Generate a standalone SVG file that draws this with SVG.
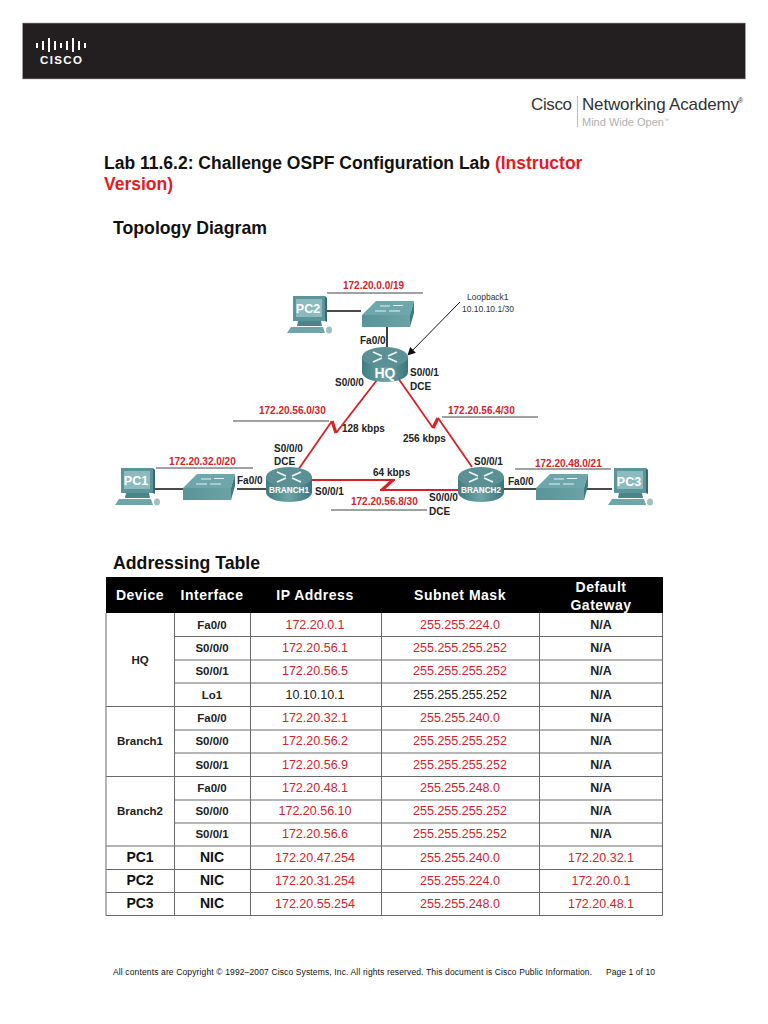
<svg xmlns="http://www.w3.org/2000/svg" width="768" height="1024" viewBox="0 0 768 1024">
<style>
text{font-family:"Liberation Sans",Arial,sans-serif}
.b{font-weight:bold}
.l{font-size:10px;font-weight:bold;fill:#222}
.n{font-size:10px;font-weight:bold;fill:#d2232a}
.ul{stroke:#444;stroke-width:1;fill:none}
.red{stroke:#d92027;stroke-width:1.8;fill:none;stroke-linejoin:miter}
.zig{stroke:#d92027;stroke-width:3.2;fill:none}
.eth{stroke:#111;stroke-width:1.6;fill:none}
.grid{stroke:#6a6a6a;stroke-width:1;fill:none}
.th{font-size:14px;font-weight:bold;fill:#fff;text-anchor:middle;letter-spacing:.5px}
.td{font-size:12.500px;fill:#d2232a;text-anchor:middle}
.tk{font-size:12.500px;fill:#222;text-anchor:middle}
.tb{font-size:11.500px;font-weight:bold;fill:#222;text-anchor:middle}
.tn{font-size:12.500px;font-weight:bold;fill:#222;text-anchor:middle}
.tB{font-size:14px;font-weight:bold;fill:#111;text-anchor:middle}
.ic{fill:#fff;font-weight:bold;text-anchor:middle}
</style>
<defs>
<linearGradient id="rg" x1="0" y1="0" x2="1" y2="0"><stop offset="0" stop-color="#3f7c82"/><stop offset=".5" stop-color="#6fa3a7"/><stop offset="1" stop-color="#3a747a"/></linearGradient>
<linearGradient id="sg" x1="0" y1="0" x2="1" y2="0"><stop offset="0" stop-color="#5a9498"/><stop offset="1" stop-color="#6ba2a6"/></linearGradient>
<marker id="ah" viewBox="0 0 10 10" refX="9" refY="5" markerWidth="9" markerHeight="8" orient="auto"><path d="M0 0L10 5L0 10z" fill="#111"/></marker>
<symbol id="router" viewBox="0 0 46 35" overflow="visible">
<path d="M0 10V25C0 31 10 35 23 35S46 31 46 25V10z" fill="url(#rg)"/>
<ellipse cx="23" cy="10" rx="23" ry="10" fill="#5b9095"/>
<path d="M11 5L20 9M35 5L26 9M11 15L20 11M35 15L26 11" stroke="#eef5f5" stroke-width="1.8" fill="none"/>
</symbol>
<symbol id="switch" viewBox="0 0 54 27" overflow="visible">
<path d="M0 14L14 0H52L48 14z" fill="#6ea7ab"/>
<path d="M0 14H48V26H0z" fill="url(#sg)"/>
<path d="M48 14L52 0V12L48 26z" fill="#3f7a80"/>
<path d="M18 5H28M31 4.500H41M13 10H24M27 10H38" stroke="#e4f0f0" stroke-width="1" fill="none"/>
</symbol>
<symbol id="pc" viewBox="0 0 45 42" overflow="visible">
<path d="M6 1H38V26H6z" fill="#5b959a"/>
<path d="M38 1L40 3V27L38 26z" fill="#37696e"/>
<path d="M9 4H35V22H9z" fill="#8dbabe"/>
<path d="M11 26H34L35 31H10z" fill="#4b858a"/>
<path d="M4 32H36L38 38H0z" fill="#6fa4a8"/>
<ellipse cx="42" cy="35" rx="3" ry="3.500" fill="#9fc0c2"/>
</symbol>
</defs>
<rect width="768" height="1024" fill="#fff"/>

<g id="banner">
<rect x="22.500" y="23" width="723" height="56" fill="#231f20" stroke="#aaa" stroke-width=".6"/>
<g fill="#fff">
<rect x="36" y="43" width="2" height="5"/><rect x="42" y="41" width="2" height="9"/><rect x="48" y="38" width="2" height="14"/><rect x="54" y="41" width="2" height="9"/><rect x="60" y="43" width="2" height="5"/><rect x="66" y="41" width="2" height="9"/><rect x="72" y="38" width="2" height="14"/><rect x="78" y="41" width="2" height="9"/><rect x="84" y="43" width="2" height="5"/>
</g>
<text x="40" y="64" font-size="11.500" class="b" fill="#fff" textLength="42" lengthAdjust="spacing">CISCO</text>
</g>

<g id="academy">
<text x="531" y="109.500" font-size="17" fill="#333" textLength="41">Cisco</text>
<rect x="577" y="96" width="1" height="31" fill="#bbb"/>
<text x="582" y="109.500" font-size="17" fill="#333" textLength="157">Networking Academy</text>
<text x="738" y="103" font-size="7" fill="#333">®</text>
<text x="582" y="126" font-size="11" fill="#b0b0b0">Mind Wide Open<tspan font-size="5" dy="-4">™</tspan></text>
</g>

<g id="headings">
<text x="104" y="169" font-size="17.500" class="b" fill="#111">Lab 11.6.2: Challenge OSPF Configuration Lab <tspan fill="#e31b23">(Instructor</tspan></text>
<text x="104" y="190" font-size="17.500" class="b" fill="#e31b23">Version)</text>
<text x="113" y="234" font-size="17.700" class="b" fill="#111">Topology Diagram</text>
<text x="113" y="569" font-size="17.700" class="b" fill="#111">Addressing Table</text>
</g>

<g id="connectors">
<path class="eth" d="M153 489H183M237 489H266M503 489H537M586 489H612M326 311H361M387 327V347"/>
<path class="red" d="M298 470L332 421M336 433L377 380"/>
<path class="zig" d="M332 421L336 433"/>
<path class="red" d="M398 378L433 428M438 418L472 467"/>
<path class="zig" d="M433 428L438 418"/>
<path class="red" d="M312 480H395M380 490H458"/>
<path class="zig" d="M393 480L382 490"/>
<path class="ul" d="M327 293H423M233 421H329M156 468H253M331 510H427M442 417H538M515 469H611"/>
<path d="M460 302L408 355" stroke="#111" stroke-width="1" fill="none" marker-end="url(#ah)"/>
</g>

<g id="PC2"><use href="#pc" x="287" y="295" width="45" height="42"/><text class="ic" x="308" y="313" font-size="12.500">PC2</text></g>
<g id="PC1"><use href="#pc" x="115" y="467" width="45" height="42"/><text class="ic" x="136" y="485" font-size="12.500">PC1</text></g>
<g id="PC3"><use href="#pc" x="608" y="467" width="45" height="42"/><text class="ic" x="629" y="486" font-size="12.500">PC3</text></g>
<g id="SW-HQ"><use href="#switch" x="362" y="301" width="54" height="27"/></g>
<g id="SW-B1"><use href="#switch" x="183" y="474" width="54" height="27"/></g>
<g id="SW-B2"><use href="#switch" x="536" y="474" width="54" height="27"/></g>
<g id="HQ"><use href="#router" x="362" y="347" width="46" height="35"/><text class="ic" x="385" y="378" font-size="14">HQ</text></g>
<g id="BRANCH1"><use href="#router" x="266" y="467" width="46" height="35"/><text class="ic" x="289" y="493" font-size="8.200">BRANCH1</text></g>
<g id="BRANCH2"><use href="#router" x="458" y="467" width="46" height="35"/><text class="ic" x="481" y="493" font-size="8.200">BRANCH2</text></g>

<g id="labels">
<text class="n" x="343" y="289">172.20.0.0/19</text>
<text class="n" x="259" y="414">172.20.56.0/30</text>
<text class="n" x="169" y="465">172.20.32.0/20</text>
<text class="n" x="351" y="505">172.20.56.8/30</text>
<text class="n" x="448" y="414">172.20.56.4/30</text>
<text class="n" x="535" y="467">172.20.48.0/21</text>
<text class="l" x="360" y="344">Fa0/0</text>
<text class="l" x="335" y="386">S0/0/0</text>
<text class="l" x="410" y="376">S0/0/1</text>
<text class="l" x="410" y="390">DCE</text>
<text class="l" x="342" y="432">128 kbps</text>
<text class="l" x="403" y="442">256 kbps</text>
<text class="l" x="274" y="452">S0/0/0</text>
<text class="l" x="274" y="465">DCE</text>
<text class="l" x="237" y="484">Fa0/0</text>
<text class="l" x="315" y="495">S0/0/1</text>
<text class="l" x="373" y="476">64 kbps</text>
<text class="l" x="474" y="465">S0/0/1</text>
<text class="l" x="508" y="485">Fa0/0</text>
<text class="l" x="429" y="501">S0/0/0</text>
<text class="l" x="429" y="515">DCE</text>
<text x="467" y="300" font-size="8.500" fill="#333">Loopback1</text>
<text x="462" y="312" font-size="8.500" fill="#333">10.10.10.1/30</text>
</g>

<g id="table">
<rect x="106" y="577" width="557" height="36" fill="#000"/>
<path class="grid" d="M106 613V915.500M662.500 613V915.500M174.500 613V915.500M250.500 613V915.500M381.500 613V915.500M539.500 613V915.500M106 915.500H662.500"/>
<path class="grid" d="M174.500 636.500H662.500M174.500 660H662.500M174.500 683H662.500M106 706.500H662.500M174.500 730H662.500M174.500 753H662.500M106 776.500H662.500M174.500 800H662.500M174.500 823H662.500M106 846H662.500M106 869.500H662.500M106 892.500H662.500"/>
<text class="th" x="140" y="600">Device</text>
<text class="th" x="212" y="600">Interface</text>
<text class="th" x="315" y="600">IP Address</text>
<text class="th" x="460" y="600">Subnet Mask</text>
<text class="th" x="601" y="592">Default</text>
<text class="th" x="601" y="610">Gateway</text>
<text class="tb" x="140" y="664">HQ</text>
<text class="tb" x="140" y="745">Branch1</text>
<text class="tb" x="140" y="815">Branch2</text>
<text class="tB" x="140" y="862">PC1</text>
<text class="tB" x="140" y="885">PC2</text>
<text class="tB" x="140" y="908">PC3</text>

<g>
<text class="tb" x="212" y="629">Fa0/0</text><text class="tb" x="212" y="652">S0/0/0</text><text class="tb" x="212" y="675">S0/0/1</text><text class="tb" x="212" y="699">Lo1</text>
<text class="tb" x="212" y="722">Fa0/0</text><text class="tb" x="212" y="745">S0/0/0</text><text class="tb" x="212" y="769">S0/0/1</text>
<text class="tb" x="212" y="792">Fa0/0</text><text class="tb" x="212" y="815">S0/0/0</text><text class="tb" x="212" y="838">S0/0/1</text>
<text class="tB" x="212" y="862">NIC</text><text class="tB" x="212" y="885">NIC</text><text class="tB" x="212" y="908">NIC</text>
</g>

<text class="td" x="315" y="629">172.20.0.1</text><text class="td" x="460" y="629">255.255.224.0</text><text class="tn" x="601" y="629">N/A</text>
<text class="td" x="315" y="652">172.20.56.1</text><text class="td" x="460" y="652">255.255.255.252</text><text class="tn" x="601" y="652">N/A</text>
<text class="td" x="315" y="675">172.20.56.5</text><text class="td" x="460" y="675">255.255.255.252</text><text class="tn" x="601" y="675">N/A</text>
<text class="tk" x="315" y="699">10.10.10.1</text><text class="tk" x="460" y="699">255.255.255.252</text><text class="tn" x="601" y="699">N/A</text>
<text class="td" x="315" y="722">172.20.32.1</text><text class="td" x="460" y="722">255.255.240.0</text><text class="tn" x="601" y="722">N/A</text>
<text class="td" x="315" y="745">172.20.56.2</text><text class="td" x="460" y="745">255.255.255.252</text><text class="tn" x="601" y="745">N/A</text>
<text class="td" x="315" y="769">172.20.56.9</text><text class="td" x="460" y="769">255.255.255.252</text><text class="tn" x="601" y="769">N/A</text>
<text class="td" x="315" y="792">172.20.48.1</text><text class="td" x="460" y="792">255.255.248.0</text><text class="tn" x="601" y="792">N/A</text>
<text class="td" x="315" y="815">172.20.56.10</text><text class="td" x="460" y="815">255.255.255.252</text><text class="tn" x="601" y="815">N/A</text>
<text class="td" x="315" y="838">172.20.56.6</text><text class="td" x="460" y="838">255.255.255.252</text><text class="tn" x="601" y="838">N/A</text>
<text class="td" x="315" y="862">172.20.47.254</text><text class="td" x="460" y="862">255.255.240.0</text><text class="td" x="601" y="862">172.20.32.1</text>
<text class="td" x="315" y="885">172.20.31.254</text><text class="td" x="460" y="885">255.255.224.0</text><text class="td" x="601" y="885">172.20.0.1</text>
<text class="td" x="315" y="908">172.20.55.254</text><text class="td" x="460" y="908">255.255.248.0</text><text class="td" x="601" y="908">172.20.48.1</text>
</g>

<g id="footer">
<text x="113" y="975" font-size="8.500" fill="#111" textLength="479">All contents are Copyright © 1992–2007 Cisco Systems, Inc. All rights reserved. This document is Cisco Public Information.</text>
<text x="606" y="975" font-size="8.500" fill="#111" textLength="49">Page 1 of 10</text>
</g>
</svg>
